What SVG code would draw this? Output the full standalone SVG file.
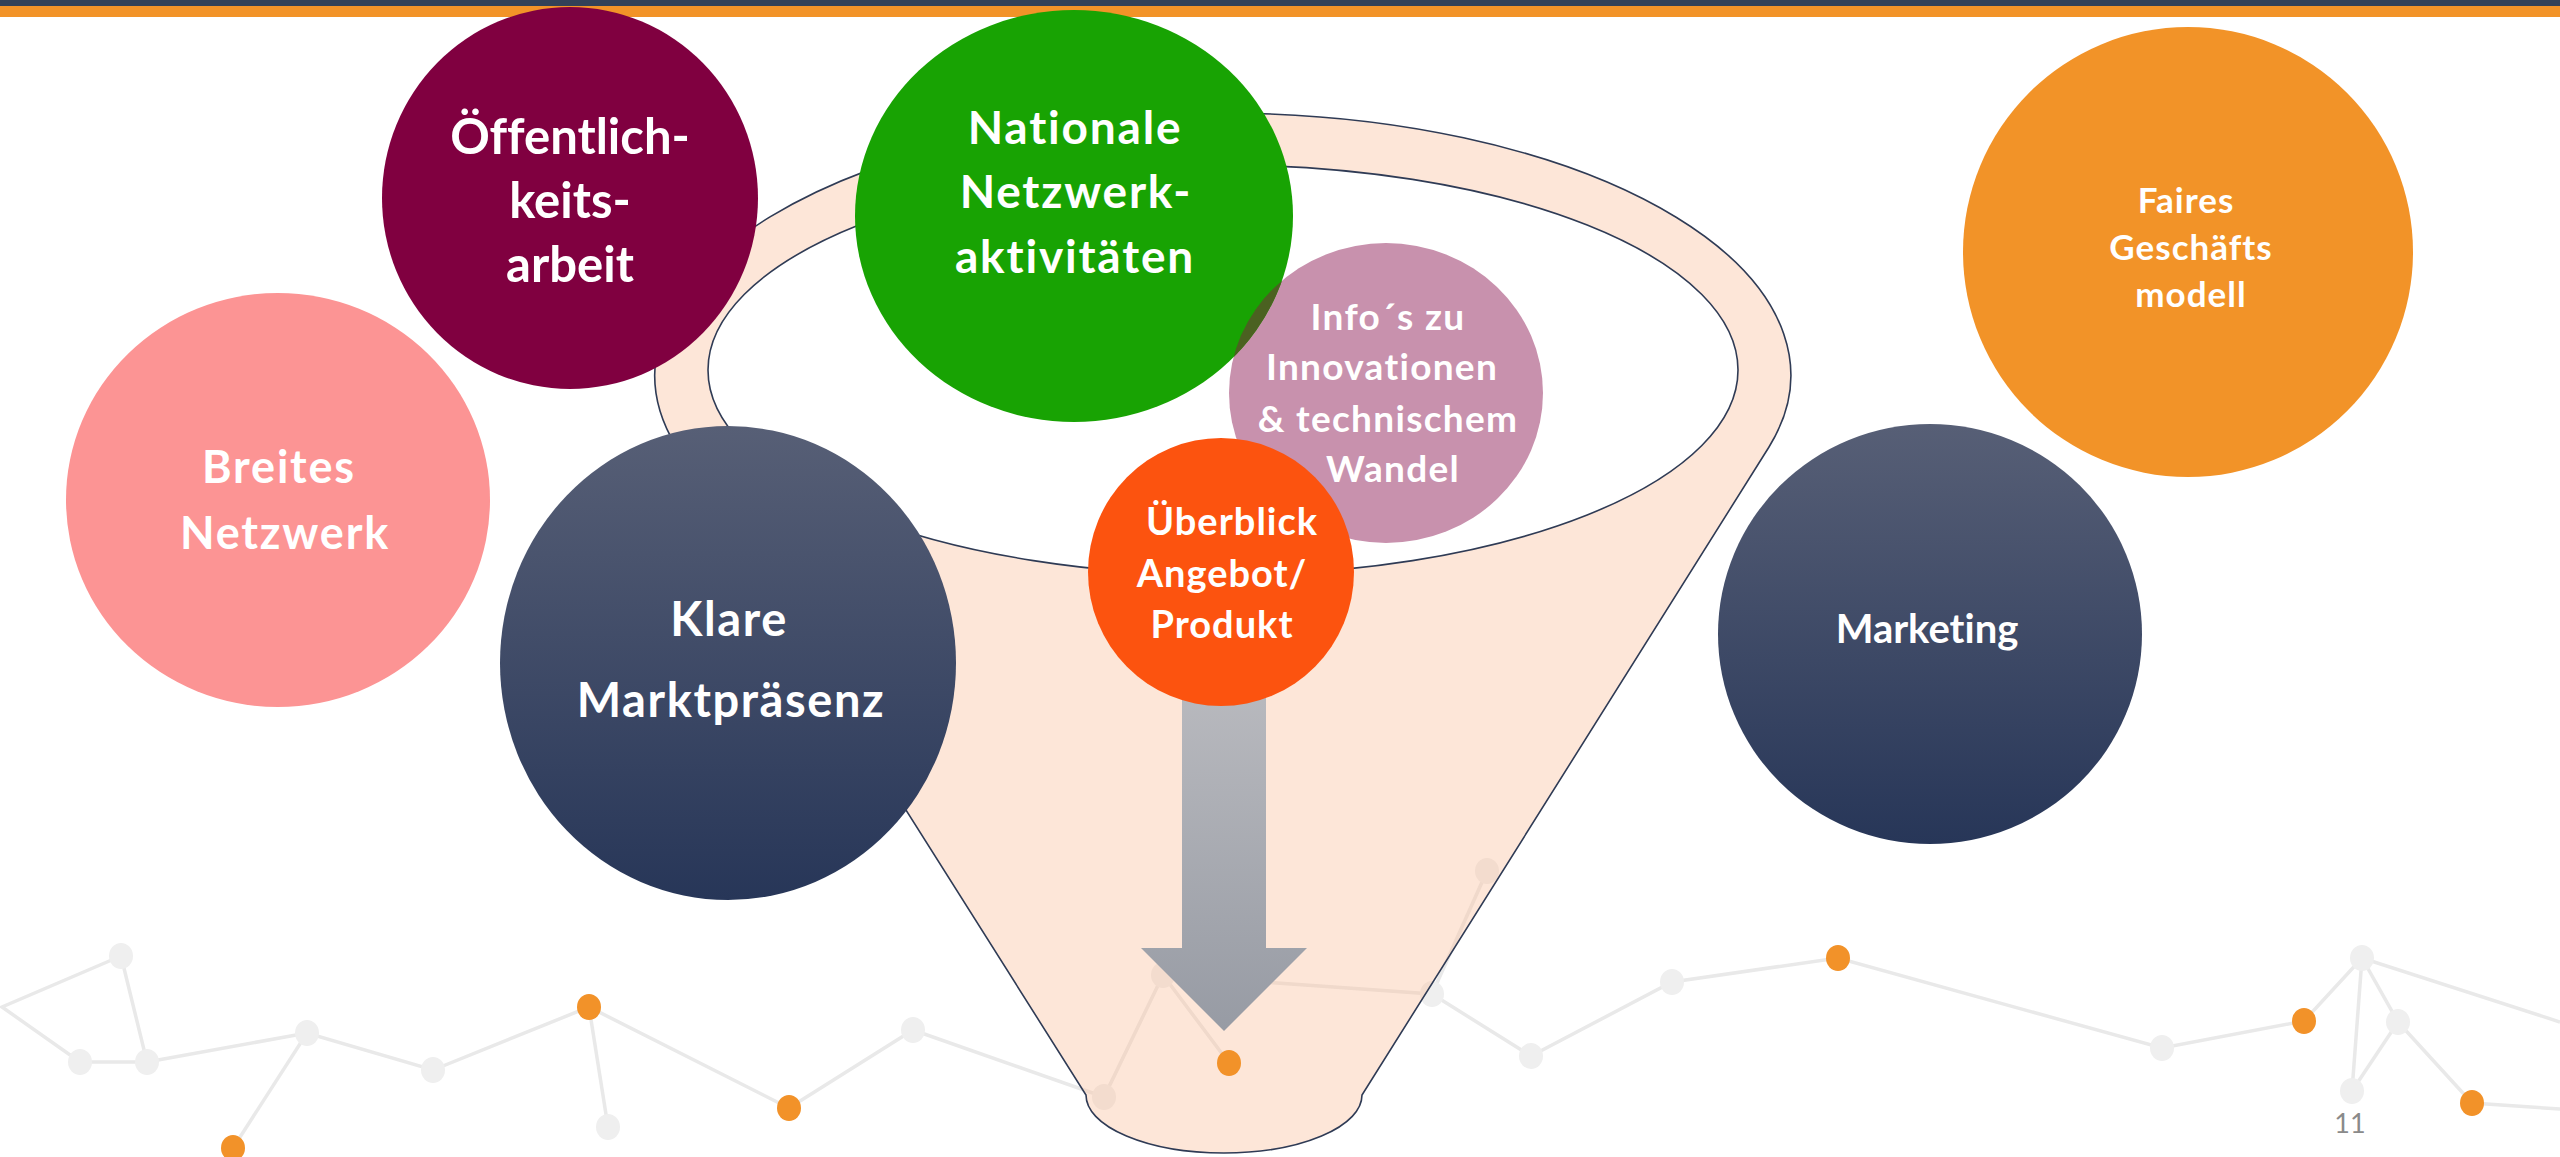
<svg xmlns="http://www.w3.org/2000/svg" width="2560" height="1157" viewBox="0 0 2560 1157">
<defs>
<linearGradient id="navy" x1="0" y1="0" x2="0" y2="1">
<stop offset="0" stop-color="#575F76"/>
<stop offset="1" stop-color="#273658"/>
</linearGradient>
<linearGradient id="arrowG" x1="0" y1="690" x2="0" y2="1031" gradientUnits="userSpaceOnUse">
<stop offset="0" stop-color="#B8B9BE"/>
<stop offset="1" stop-color="#979BA4"/>
</linearGradient>
<clipPath id="mauveClip"><ellipse cx="1386" cy="393" rx="157" ry="150"/></clipPath>
<style>
.lbl{font-family:Lato,"Open Sans","Liberation Sans",sans-serif;font-weight:bold;fill:#FFFFFF;text-anchor:middle;font-variant-ligatures:none;font-feature-settings:"liga" 0,"clig" 0}
.ln{stroke:#E9E9E9;stroke-width:3.5;fill:none}
.ng{fill:#EFEFEF}
.no{fill:#F29229}
</style>
</defs>
<rect x="0" y="0" width="2560" height="1157" fill="#FFFFFF"/>
<rect x="0" y="0" width="2560" height="6" fill="#324158"/>
<rect x="0" y="6" width="2560" height="11" fill="#F29328"/>

<g id="network">
<polyline class="ln" points="121,956 2,1007 80,1062 147,1062 121,956"/>
<polyline class="ln" points="147,1062 307,1033 433,1070 589,1007 789,1108 913,1030 1104,1097 1163,975 1229,1063"/>
<line class="ln" x1="307" y1="1033" x2="233" y2="1148"/>
<line class="ln" x1="589" y1="1007" x2="608" y2="1127"/>
<polyline class="ln" points="1163,975 1432,994 1531,1056 1672,982 1838,958 2162,1048 2304,1021 2362,958 2560,1022"/>
<line class="ln" x1="1487" y1="871" x2="1432" y2="994"/>
<polyline class="ln" points="2362,958 2352,1091 2398,1022 2362,958"/>
<polyline class="ln" points="2398,1022 2472,1103 2560,1109"/>
<ellipse class="ng" cx="121" cy="956" rx="12" ry="13"/>
<ellipse class="ng" cx="80" cy="1062" rx="12" ry="13"/>
<ellipse class="ng" cx="147" cy="1062" rx="12" ry="13"/>
<ellipse class="ng" cx="307" cy="1033" rx="12" ry="13"/>
<ellipse class="no" cx="233" cy="1148" rx="12" ry="13"/>
<ellipse class="ng" cx="433" cy="1070" rx="12" ry="13"/>
<ellipse class="no" cx="589" cy="1007" rx="12" ry="13"/>
<ellipse class="ng" cx="608" cy="1127" rx="12" ry="13"/>
<ellipse class="no" cx="789" cy="1108" rx="12" ry="13"/>
<ellipse class="ng" cx="913" cy="1030" rx="12" ry="13"/>
<ellipse class="ng" cx="1104" cy="1097" rx="12" ry="13"/>
<ellipse class="ng" cx="1163" cy="975" rx="12" ry="13"/>
<ellipse class="ng" cx="1487" cy="871" rx="12" ry="13"/>
<ellipse class="ng" cx="1432" cy="994" rx="12" ry="13"/>
<ellipse class="ng" cx="1531" cy="1056" rx="12" ry="13"/>
<ellipse class="ng" cx="1672" cy="982" rx="12" ry="13"/>
<ellipse class="no" cx="1838" cy="958" rx="12" ry="13"/>
<ellipse class="ng" cx="2162" cy="1048" rx="12" ry="13"/>
<ellipse class="no" cx="2304" cy="1021" rx="12" ry="13"/>
<ellipse class="ng" cx="2362" cy="958" rx="12" ry="13"/>
<ellipse class="ng" cx="2398" cy="1022" rx="12" ry="13"/>
<ellipse class="ng" cx="2352" cy="1091" rx="12" ry="13"/>
<ellipse class="no" cx="2472" cy="1103" rx="12" ry="13"/>
</g>

<g id="funnel">
<path d="M 676 446 A 568 262 0 1 1 1769 447 L 1362 1095 A 138 58 0 0 1 1086 1095 Z" fill="rgb(250,192,157)" fill-opacity="0.4" stroke="#2F3B55" stroke-width="1.6"/>
<ellipse cx="1223" cy="370" rx="515" ry="205" fill="#FFFFFF" stroke="#2F3B55" stroke-width="1.6"/>
</g>
<ellipse id="network-node-top" class="no" cx="1229" cy="1063" rx="12" ry="13"/>

<g id="arrow">
<rect x="1182" y="690" width="84" height="258" fill="url(#arrowG)"/>
<polygon points="1141,948 1307,948 1224,1031" fill="url(#arrowG)"/>
</g>

<g id="node-breites">
<ellipse cx="278" cy="500" rx="212" ry="207" fill="#FC9494"/>
<text class="lbl" font-size="45" letter-spacing="1.8"><tspan x="279" y="483">Breites</tspan><tspan x="285" y="549">Netzwerk</tspan></text>
</g>
<g id="node-oeffentlichkeit">
<ellipse cx="570" cy="198" rx="188" ry="191" fill="#800040"/>
<text class="lbl" font-size="49"><tspan x="570" y="154">Öffentlich-</tspan><tspan x="570" y="218">keits-</tspan><tspan x="570" y="282">arbeit</tspan></text>
</g>
<g id="node-info">
<ellipse cx="1386" cy="393" rx="157" ry="150" fill="#C891AD"/>
<text class="lbl" font-size="37" letter-spacing="1.3"><tspan x="1388" y="330">Info´s zu</tspan><tspan x="1382" y="380">Innovationen</tspan><tspan x="1388" y="432">&amp; technischem</tspan><tspan x="1393" y="482">Wandel</tspan></text>
</g>
<g id="node-national">
<ellipse cx="1074" cy="216" rx="219" ry="206" fill="#18A303"/>
<ellipse cx="1074" cy="216" rx="219" ry="206" fill="#4B6121" clip-path="url(#mauveClip)"/>
<text class="lbl" font-size="46" letter-spacing="1.8"><tspan x="1075" y="144">Nationale</tspan><tspan x="1076" y="208">Netzwerk-</tspan><tspan x="1075" y="273">aktivitäten</tspan></text>
</g>
<g id="node-ueberblick">
<ellipse cx="1221" cy="572" rx="133" ry="134" fill="#FC530F"/>
<text class="lbl" font-size="38" letter-spacing="1"><tspan x="1232" y="535">Überblick</tspan><tspan x="1222" y="587">Angebot/</tspan><tspan x="1222" y="638">Produkt</tspan></text>
</g>
<g id="node-klare">
<ellipse cx="728" cy="663" rx="228" ry="237" fill="url(#navy)"/>
<text class="lbl" font-size="47" letter-spacing="1.6"><tspan x="729" y="636">Klare</tspan><tspan x="731" y="717">Marktpräsenz</tspan></text>
</g>
<g id="node-faires">
<ellipse cx="2188" cy="252" rx="225" ry="225" fill="#F29328"/>
<text class="lbl" font-size="35" letter-spacing="1"><tspan x="2186" y="213">Faires</tspan><tspan x="2191" y="260">Geschäfts</tspan><tspan x="2191" y="307">modell</tspan></text>
</g>
<g id="node-marketing">
<ellipse cx="1930" cy="634" rx="212" ry="210" fill="url(#navy)"/>
<text class="lbl" font-size="40" x="1927" y="643">Marketing</text>
</g>
<text x="2350" y="1133" font-family="Lato,'Liberation Sans',sans-serif" font-size="27" fill="#8A8A8A" text-anchor="middle">11</text>
</svg>
